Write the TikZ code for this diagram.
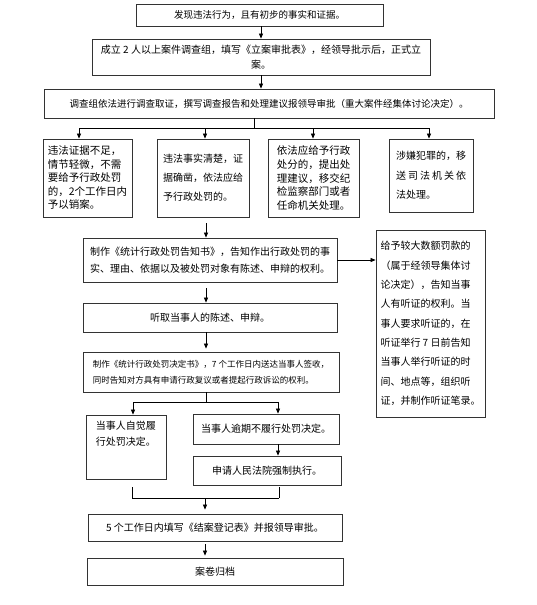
\documentclass[tikz,border=0pt]{standalone}
\usepackage{fontspec}
\setmainfont{Noto Sans CJK SC}
\usetikzlibrary{arrows.meta,calc}
\newcommand\myfs[2]{\fontsize{#1}{#2}\selectfont}
\begin{document}
\begin{tikzpicture}[x=1pt,y=-1pt,
  box/.style={draw=black!80, line width=0.8pt, inner sep=2pt, align=center, font=\myfs{10}{13}},
  arr/.style={-{Triangle[length=5pt,width=4pt]}, line width=0.7pt},
  ln/.style={line width=0.7pt}]
\useasboundingbox (0,0) rectangle (536,605);
\fill[white] (0,0) rectangle (536,605);

\node[box, minimum width=247, minimum height=22, font=\myfs{9.5}{12}] (b1) at (259.5,15) {发现违法行为，且有初步的事实和证据。};
\node[box, minimum width=338, minimum height=36, font=\myfs{10}{15}] (b2) at (261,57) {成立 2 人以上案件调查组，填写《立案审批表》，经领导批示后，正式立\\案。};
\node[box, minimum width=450, minimum height=29, font=\myfs{9.5}{12}] (b3) at (269,103.5) {调查组依法进行调查取证，撰写调查报告和处理建议报领导审批（重大案件经集体讨论决定）。};

\node[box, minimum width=89, minimum height=78, align=left, font=\myfs{10.5}{13.5}] (b4a) at (87.5,178) {违法证据不足，\\情节轻微，不需\\要给予行政处罚\\的，2个工作日内\\予以销案。};
\node[box, minimum width=92, minimum height=78, align=left, font=\myfs{10}{19}] (b4b) at (203,178) {违法事实清楚，证\\据确凿，依法应给\\予行政处罚的。};
\node[box, minimum width=91, minimum height=78, align=left, font=\myfs{10.5}{13.75}] (b4c) at (313.5,178) {依法应给予行政\\处分的，提出处\\理建议，移交纪\\检监察部门或者\\任命机关处理。};
\node[box, minimum width=84, minimum height=73, align=left, font=\myfs{10}{19.5}] (b4d) at (431,175.5) {涉嫌犯罪的，移\\\makebox[70pt][s]{送\hfill 司\hfill 法\hfill 机\hfill 关\hfill 依}\\法处理。};

\node[box, minimum width=254, minimum height=44, align=left, font=\myfs{10}{17}] (b5) at (210,260) {制作《统计行政处罚告知书》，告知作出行政处罚的事\\实、理由、依据以及被处罚对象有陈述、申辩的权利。};
\node[box, minimum width=109, minimum height=187, align=left, font=\myfs{10}{19.3}] (r) at (430.5,323.5) {给予较大数额罚款的\\（属于经领导集体讨\\论决定），告知当事\\人有听证的权利。当\\事人要求听证的，在\\听证举行 7 日前告知\\当事人举行听证的时\\间、地点等，组织听\\证，并制作听证笔录。};
\node[box, minimum width=254, minimum height=29] (b6) at (210,317.5) {听取当事人的陈述、申辩。};
\node[box, minimum width=256, minimum height=40, align=left, font=\myfs{8.5}{15.7}] (b7) at (211,372) {制作《统计行政处罚决定书》，7 个工作日内送达当事人签收，\\同时告知对方具有申请行政复议或者提起行政诉讼的权利。};

\node[box, minimum width=80, minimum height=64] (b8a) at (126,447) {};
\node[anchor=north west, align=left, inner sep=0pt, font=\myfs{10}{16}] (t8a) at ([shift={(10,6)}]b8a.north west) {当事人自觉履\\行处罚决定。};
\node[box, minimum width=146, minimum height=30] (b8b) at (266,429) {当事人逾期不履行处罚决定。};
\node[box, minimum width=148, minimum height=29] (b9) at (267,470.5) {申请人民法院强制执行。};
\node[box, minimum width=254, minimum height=27] (b10) at (215,527.5) {5 个工作日内填写《结案登记表》并报领导审批。};
\node[box, minimum width=256, minimum height=27] (b11) at (215,571.5) {案卷归档};

% connectors
\draw[arr] (b2.north |- b1.south) -- (b2.north);
\draw[arr] (b2.south) -- (b2.south |- b3.north);
\coordinate (j1) at (254,128);
\coordinate (c1) at (79,128);
\coordinate (c2) at (205,128);
\coordinate (c3) at (313,128);
\coordinate (c4) at (429,128);
\draw[ln] (b3.south -| j1) -- (j1);
\draw[ln] (c1) -- (c4);
\draw[arr] (c1) -- (b4a.north -| c1);
\draw[arr] (c2) -- (b4b.north -| c2);
\draw[arr] (c3) -- (b4c.north -| c3);
\draw[arr] (c4) -- (b4d.north -| c4);

\coordinate (a5) at (206,0);
\draw[arr, shorten <=6pt] (b4b.south -| a5) -- (b5.north -| a5);
\draw[arr] (b5.east) -- (b5.east -| r.west);
\draw[arr, shorten <=6pt] (b5.south -| a5) -- (b6.north -| a5);
\draw[arr, shorten >=3pt] (b6.south -| a5) -- (b7.north -| a5);

\coordinate (j2) at (206,402);
\coordinate (d1) at (133,402);
\coordinate (d2) at (278,402);
\draw[ln] (b7.south -| j2) -- (j2);
\draw[ln] (d1) -- (d2);
\draw[arr] (d1) -- (b8a.north -| d1);
\draw[arr] (d2) -- (b8b.north -| d2);
\draw[arr] (b8b.south -| d2) -- (b9.north -| d2);

\coordinate (m1) at (132,498);
\coordinate (m2) at (279,498);
\coordinate (m0) at (205,498);
\draw[ln, shorten <=8pt] (b8a.south -| m1) -- (m1);
\draw[ln, shorten <=2pt] (b9.south -| m2) -- (m2);
\draw[ln] (m1) -- (m2);
\draw[arr, shorten >=4pt] (m0) -- (b10.north -| m0);
\draw[arr, shorten <=3pt, shorten >=2pt] (b10.south -| m0) -- (b11.north -| m0);
\end{tikzpicture}
\end{document}
